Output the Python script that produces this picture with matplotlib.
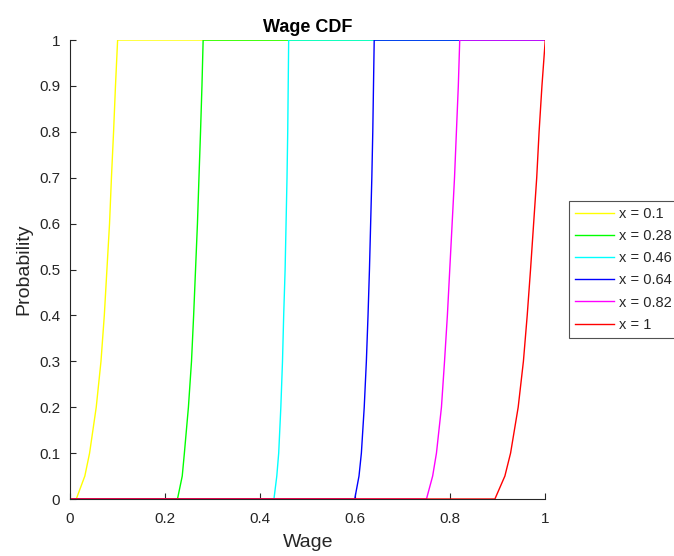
import matplotlib
matplotlib.use('Agg')
import matplotlib.pyplot as plt

# niveaux de probabilite communs, salaires
probs = [0, 0.05, 0.1, 0.2, 0.3, 0.4, 0.5, 0.6, 0.7, 0.8, 0.9, 1]

wage_x01 = [0.013, 0.031, 0.041, 0.055, 0.065, 0.072, 0.0775, 0.083, 0.087, 0.0915, 0.0955, 0.1]
wage_x028 = [0.226, 0.236, 0.2405, 0.249, 0.2555, 0.26, 0.264, 0.268, 0.2712, 0.2745, 0.2775, 0.28]
wage_x046 = [0.429, 0.435, 0.439, 0.4435, 0.447, 0.4495, 0.4525, 0.4545, 0.4565, 0.458, 0.459, 0.46]
wage_x064 = [0.599, 0.608, 0.613, 0.619, 0.6235, 0.627, 0.630, 0.6325, 0.635, 0.637, 0.6385, 0.64]
wage_x082 = [0.750, 0.763, 0.771, 0.7815, 0.788, 0.794, 0.799, 0.804, 0.809, 0.813, 0.817, 0.82]
wage_x1 = [0.894, 0.915, 0.927, 0.943, 0.954, 0.962, 0.969, 0.9755, 0.982, 0.987, 0.993, 1.0]

labels = ['x = 0.1', 'x = 0.28', 'x = 0.46', 'x = 0.64', 'x = 0.82', 'x = 1']
couleurs = ['#FFFF00', '#00FF00', '#00FFFF', '#0000FF', '#FF00FF', '#FF0000']

plt.rcParams['font.family'] = ['Liberation Sans', 'DejaVu Sans']
gris = '#262626'

fig = plt.figure(figsize=(6.74, 5.56), dpi=100)
ax = fig.add_axes([0.104, 0.1025, 0.705, 0.8255])

series = [wage_x01, wage_x028, wage_x046, wage_x064, wage_x082, wage_x1]
for wages, lab, c in zip(series, labels, couleurs):
    xs = [0] + wages + [1]
    ys = [0] + probs + [1]
    ax.plot(xs, ys, color=c, lw=1.0, label=lab)

ax.set_xlim(0, 1)
ax.set_ylim(0, 1)
ax.set_xticks([0, 0.2, 0.4, 0.6, 0.8, 1])
ax.set_xticklabels(['0', '0.2', '0.4', '0.6', '0.8', '1'])
ax.set_yticks([i / 10 for i in range(11)])
ax.set_yticklabels(['0'] + ['0.%d' % i for i in range(1, 10)] + ['1'])
ax.tick_params(direction='in', length=4, width=0.8, colors=gris, labelsize=11)
ax.tick_params(axis='y', pad=7)
ax.tick_params(axis='x', pad=9)
for s in ['top', 'right']:
    ax.spines[s].set_visible(False)
for s in ['left', 'bottom']:
    ax.spines[s].set_color(gris)
    ax.spines[s].set_linewidth(0.8)

ax.set_title('Wage CDF', fontsize=13, fontweight='bold', color='black', pad=6)
ax.set_xlabel('Wage', fontsize=14, color=gris, labelpad=6)
ax.set_ylabel('Probability', fontsize=14, color=gris, labelpad=5)

leg = ax.legend(loc='upper left', bbox_to_anchor=(569 / 674, 1 - 201 / 556),
                bbox_transform=fig.transFigure, fontsize=10.5, frameon=True,
                fancybox=False, edgecolor=gris, handlelength=2.7,
                handletextpad=0.35, labelspacing=0.56, borderpad=0.4,
                borderaxespad=0)
leg.get_frame().set_linewidth(0.8)
for t in leg.get_texts():
    t.set_color(gris)

plt.savefig('out.png', dpi=100)
